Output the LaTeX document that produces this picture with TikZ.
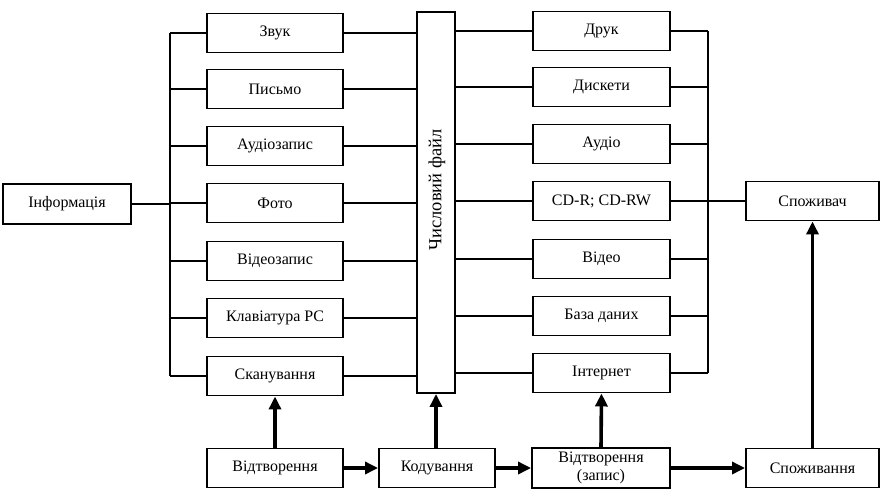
\documentclass[tikz,border=0pt]{standalone}
\usepackage{fontspec}
\setmainfont{Liberation Serif}
\usetikzlibrary{arrows.meta}
\begin{document}
\begin{tikzpicture}[x=1pt,y=-1pt,
  blk/.style={draw, line width=1.9pt, minimum width=136pt, minimum height=39pt, inner sep=1pt,
    font=\fontsize{16}{16.5}\selectfont, align=center},
  conn/.style={line width=1.2pt},
  flow/.style={line width=3.6pt, -{Triangle[length=13pt,width=12pt]}}]
\useasboundingbox (0,0) rectangle (880,488);
% left side
\node[blk, minimum width=128pt, minimum height=40pt] (info) at (67,204) {Інформація};
\node[blk] (l1) at (275,33) {Звук};
\node[blk] (l2) at (275,89) {Письмо};
\node[blk] (l3) at (275,146) {Аудіозапис};
\node[blk] (l4) at (275,203) {Фото};
\node[blk] (l5) at (275,261) {Відеозапис};
\node[blk] (l6) at (275,318) {Клавіатура PC};
\node[blk] (l7) at (275,376) {Сканування};
% central file
\node[blk, minimum width=38pt, minimum height=381pt] (num) at (436,202.5) {};
\node[rotate=90, font=\fontsize{18.5}{19}\selectfont] (numtxt) at (437,190) {Числовий файл};
% right side
\node[blk, minimum width=137pt] (r1) at (601.5,31) {Друк};
\node[blk, minimum width=137pt] (r2) at (601.5,87) {Дискети};
\node[blk, minimum width=137pt] (r3) at (601.5,144) {Аудіо};
\node[blk, minimum width=137pt] (r4) at (601.5,201) {CD-R; CD-RW};
\node[blk, minimum width=137pt] (r5) at (601.5,259) {Відео};
\node[blk, minimum width=137pt] (r6) at (601.5,316) {База даних};
\node[blk, minimum width=137pt] (r7) at (601.5,373) {Інтернет};
\node[blk, minimum width=133pt] (cons) at (812.5,201) {Споживач};
% bottom row
\node[blk] (b1) at (275,468) {Відтворення};
\node[blk, minimum width=116pt] (b2) at (437,468) {Кодування};
\node[blk, minimum width=138pt, minimum height=40pt, inner sep=0pt] (b3) at (601,468) {Відтворення\\[2pt](запис)};
\node[blk, minimum width=133pt] (b4) at (812.5,468) {Споживання};
% buses
\coordinate (lbt) at (170,33);
\coordinate (lbb) at (170,376);
\coordinate (rbt) at (708,31);
\coordinate (rbb) at (708,373);
\draw[conn] (lbt) -- (lbb);
\draw[conn] (rbt) -- (rbb);
\draw[conn] (info.east) -- (info.east -| lbt);
\foreach \n in {l1,l2,l3,l4,l5,l6,l7}{
  \draw[conn] (\n.west -| lbt) -- (\n.west);
  \draw[conn] (\n.east) -- (\n.east -| num.west);
}
\foreach \n in {r1,r2,r3,r4,r5,r6,r7}{
  \draw[conn] (\n.west -| num.east) -- (\n.west);
  \draw[conn] (\n.east) -- (\n.east -| rbt);
}
\draw[conn] (r4.east -| rbt) -- (cons.west);
% flows
\draw[flow] (b1.north) -- (l7.south);
\draw[flow] (b1.east) -- (b2.west);
\draw[flow] (b2.north -| num.south) -- (num.south);
\draw[flow] (b2.east) -- (b3.west);
\draw[flow] (b3.north) -- (r7.south);
\draw[flow] (b3.east) -- (b4.west);
\draw[flow] (b4.north) -- (cons.south);
\end{tikzpicture}
\end{document}
